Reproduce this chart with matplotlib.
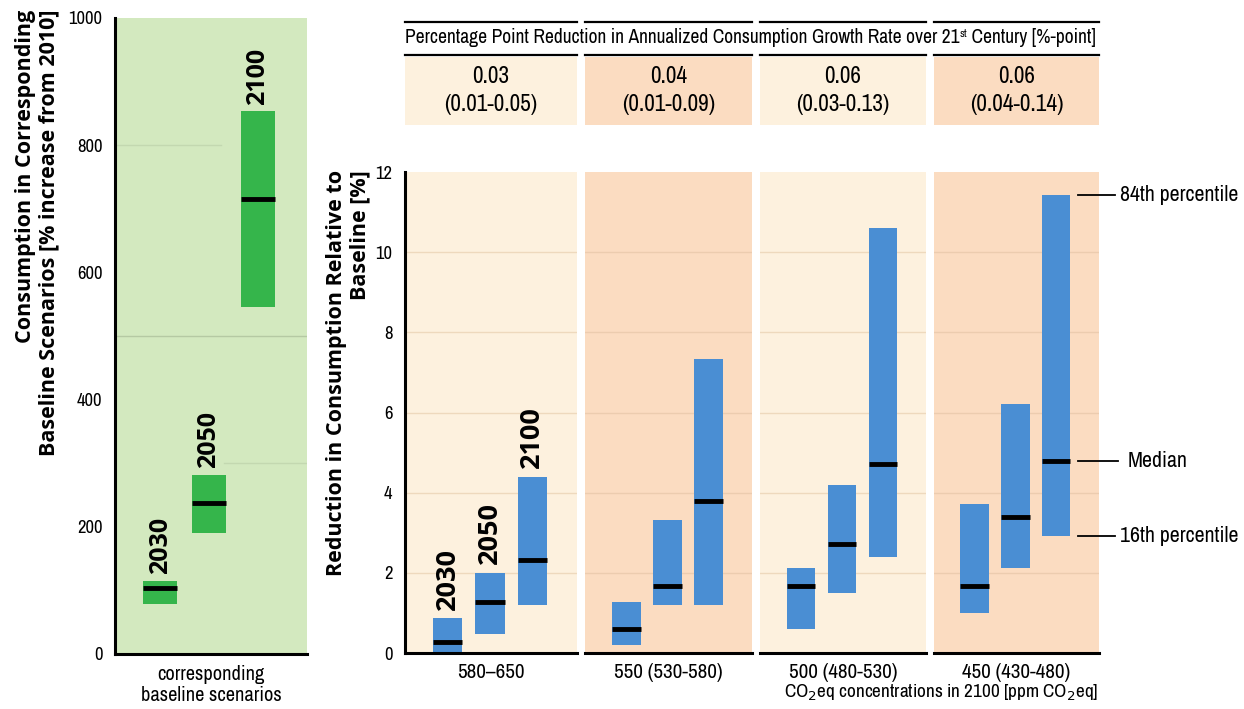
import matplotlib
matplotlib.use("Agg")
import matplotlib.pyplot as plt
from matplotlib import font_manager as fm
from matplotlib.transforms import blended_transform_factory
from matplotlib.lines import Line2D

# ---------------- data ----------------
years = ["2030", "2050", "2100"]

# left panel: consumption in baseline scenarios [% increase from 2010]
base_low = [78, 190, 545]
base_med = [103, 237, 715]
base_high = [115, 282, 853]

# right panels: reduction in consumption relative to baseline [%]
scenarios = ["580–650", "550 (530-580)", "500 (480-530)", "450 (430-480)"]
red_low = [[0.0, 0.48, 1.2], [0.2, 1.2, 1.2], [0.6, 1.5, 2.4], [1.0, 2.12, 2.92]]
red_med = [[0.28, 1.28, 2.33], [0.6, 1.68, 3.8], [1.68, 2.72, 4.72], [1.68, 3.4, 4.8]]
red_high = [[0.87, 2.0, 4.4], [1.28, 3.32, 7.33], [2.12, 4.2, 10.6], [3.72, 6.2, 11.42]]

growth_med = ["0.03", "0.04", "0.06", "0.06"]
growth_rng = ["(0.01-0.05)", "(0.01-0.09)", "(0.03-0.13)", "(0.04-0.14)"]

left_ticks = [0, 200, 400, 600, 800, 1000]
right_ticks = [0, 2, 4, 6, 8, 10, 12]

# ---------------- fonts ----------------
narrow_entry = None
for pref in ("narrow", "condensed"):
    for f in fm.fontManager.ttflist:
        low = (f.name + " " + f.fname).lower()
        if pref in low and "bold" not in low and "italic" not in low and "oblique" not in low:
            narrow_entry = f
            break
    if narrow_entry is not None:
        break
names = {f.name for f in fm.fontManager.ttflist}
if narrow_entry is not None:
    NFP = fm.FontProperties(fname=narrow_entry.fname)
    NNAME = narrow_entry.name
else:
    NNAME = "Roboto" if "Roboto" in names else "DejaVu Sans"
    NFP = fm.FontProperties(family=NNAME)
BOLD = "Open Sans" if "Open Sans" in names else "DejaVu Sans"
plt.rcParams["font.family"] = [NNAME, "DejaVu Sans"]
plt.rcParams["mathtext.fontset"] = "custom"
plt.rcParams["mathtext.rm"] = NNAME

W, H = 1244, 709
fig = plt.figure(figsize=(W / 100, H / 100), dpi=100)
fig.patch.set_facecolor("white")
renderer = fig.canvas.get_renderer()


def size_for(s, target_px, base=12.0):
    t = fig.text(0, 0, s, fontproperties=NFP, fontsize=base)
    w = t.get_window_extent(renderer).width
    t.remove()
    return base * target_px / w


def px_axes(x0, y0, x1, y1):
    return fig.add_axes([x0 / W, 1 - y1 / H, (x1 - x0) / W, (y1 - y0) / H])


def fx(x):
    return x / W


def fy(y):
    return 1 - y / H


def ntext(x, y, s, size, **kw):
    return fig.text(fx(x), fy(y), s, fontproperties=NFP, fontsize=size, **kw)


green_bg = "#d3e9bf"
green_bar = "#35b54b"
blue_bar = "#4a8ed3"
cream = "#fdf1de"
peach = "#fbdcc1"
panel_bg = [cream, peach, cream, peach]

tick_size = size_for("1000", 34)

# ---------------- left panel ----------------
axL = px_axes(115, 18, 307, 654)
axL.set_facecolor(green_bg)
axL.set_ylim(0, 1000)
axL.set_xlim(-0.92, 3.0)
for s in ["top", "right"]:
    axL.spines[s].set_visible(False)
for s in ["left", "bottom"]:
    axL.spines[s].set_linewidth(2.2)
axL.axhline(500, color="#b5c9a3", lw=1.0, zorder=1)
axL.axhline(800, xmin=0, xmax=0.55, color="#c3d8b0", lw=1.0, zorder=1)
axL.axhline(300, xmin=0.57, xmax=1, color="#c3d8b0", lw=1.0, zorder=1)
xs = list(range(len(years)))
axL.bar(xs, [h - l for h, l in zip(base_high, base_low)], bottom=base_low,
        width=0.7, color=green_bar, zorder=2)
axL.hlines(base_med, [x - 0.35 for x in xs], [x + 0.35 for x in xs],
           color="black", lw=3.5, zorder=3)
for x, top, yr in zip(xs, base_high, years):
    axL.annotate(yr, (x, top), xytext=(0, 5), textcoords="offset points",
                 rotation=90, ha="center", va="bottom", fontsize=18,
                 fontweight="bold", family=BOLD)
axL.set_yticks(left_ticks)
axL.set_yticklabels([str(t) for t in left_ticks])
for lab in axL.get_yticklabels():
    lab.set_fontproperties(NFP)
    lab.set_fontsize(tick_size)
axL.tick_params(axis="y", length=0, pad=9)
axL.set_xticks([])
cb_size = size_for("baseline scenarios", 140)
ntext(211, 685, "corresponding\nbaseline scenarios", cb_size, ha="center",
      va="center", linespacing=1.1)
fig.text(fx(37), fy(10), "Consumption in Corresponding\nBaseline Scenarios [% increase from 2010]",
         rotation=90, ha="center", va="top", multialignment="right",
         fontsize=15.5, fontweight="bold", family=BOLD, linespacing=1.15)

# ---------------- right panels ----------------
panels = [(405, 577), (585, 752), (760, 926), (934, 1099)]
scen_size = size_for("550 (530-580)", 108)
axes_r = []
for i, (x0, x1) in enumerate(panels):
    ax = px_axes(x0, 172, x1, 653)
    ax.set_facecolor(panel_bg[i])
    ax.set_ylim(0, 12)
    ax.set_xlim(-1.0, 3.05)
    for s in ["top", "right", "left"]:
        ax.spines[s].set_visible(False)
    ax.spines["bottom"].set_linewidth(2.2)
    gc = "#eed9bd" if i % 2 == 0 else "#ecccaf"
    for g in right_ticks[1:-1]:
        ax.axhline(g, color=gc, lw=1.0, zorder=1)
    ax.bar(xs, [h - l for h, l in zip(red_high[i], red_low[i])],
           bottom=red_low[i], width=0.7, color=blue_bar, zorder=2)
    ax.hlines(red_med[i], [x - 0.35 for x in xs], [x + 0.35 for x in xs],
              color="black", lw=3.5, zorder=3)
    ax.set_xticks([])
    if i == 0:
        ax.spines["left"].set_visible(True)
        ax.spines["left"].set_linewidth(2.2)
        ax.set_yticks(right_ticks)
        ax.set_yticklabels([str(t) for t in right_ticks])
        for lab in ax.get_yticklabels():
            lab.set_fontproperties(NFP)
            lab.set_fontsize(tick_size)
        ax.tick_params(axis="y", length=0, pad=9)
        for x, top, yr in zip(xs, red_high[i], years):
            ax.annotate(yr, (x, top), xytext=(0, 6), textcoords="offset points",
                        rotation=90, ha="center", va="bottom", fontsize=19.5,
                        fontweight="bold", family=BOLD)
    else:
        ax.set_yticks([])
    ntext((x0 + x1) / 2, 673, scenarios[i], scen_size, ha="center", va="center")
    axes_r.append(ax)

co2 = r"CO$_{2}$eq concentrations in 2100 [ppm CO$_{2}$eq]"
ntext(1098, 693, co2, size_for(co2, 315), ha="right", va="center")
fig.text(fx(348), fy(170), "Reduction in Consumption Relative to\nBaseline [%]",
         rotation=90, ha="center", va="top", multialignment="right",
         fontsize=15.5, fontweight="bold", family=BOLD, linespacing=1.15)

# annotations for percentiles on last bar
ax4 = axes_r[-1]
tr = blended_transform_factory(fig.transFigure, ax4.transData)
ann_size = size_for("84th percentile", 119)
ann = [(red_high[3][2], "84th percentile", 1115, 1120),
       (red_med[3][2], "Median", 1118, 1128),
       (red_low[3][2], "16th percentile", 1115, 1120)]
for yv, label, xe, xt in ann:
    ax4.plot([fx(1078), fx(xe)], [yv, yv], color="black", lw=1.3,
             transform=tr, clip_on=False, zorder=5)
    ax4.text(fx(xt), yv, label, transform=tr, ha="left", va="center",
             fontproperties=NFP, fontsize=ann_size, clip_on=False)

# ---------------- header table ----------------
hdr_size = size_for("(0.01-0.05)", 94)
for i, (x0, x1) in enumerate(panels):
    hax = px_axes(x0, 57, x1, 125)
    hax.set_facecolor(panel_bg[i])
    hax.set_xticks([])
    hax.set_yticks([])
    for s in hax.spines.values():
        s.set_visible(False)
    hax.text(0.5, 0.72, growth_med[i], transform=hax.transAxes, ha="center",
             va="center", fontproperties=NFP, fontsize=hdr_size)
    hax.text(0.5, 0.3, growth_rng[i], transform=hax.transAxes, ha="center",
             va="center", fontproperties=NFP, fontsize=hdr_size)
    for yl in (22, 55):
        fig.add_artist(Line2D([fx(x0), fx(x1)], [fy(yl), fy(yl)], color="black",
                              lw=1.6, transform=fig.transFigure))

# title with small superscript, built from pieces
t1 = "Percentage Point Reduction in Annualized Consumption Growth Rate over 21"
t2 = "st"
t3 = " Century [%-point]"
full_w = 690.0
probe_size = 12.0
w1 = size_for(t1, 1.0, probe_size)  # returns probe_size / width1
w3 = size_for(t3, 1.0, probe_size)
width1 = probe_size / w1
width3 = probe_size / w3
sup_frac = 0.6
# approximate sup width using probe
width2 = probe_size / size_for(t2, 1.0, probe_size) * sup_frac
scale = full_w / (width1 + width2 + width3)
tsize = probe_size * scale
x = 405.0
ntext(x, 43, t1, tsize, ha="left", va="baseline")
x += width1 * scale
ntext(x + 1, 43 - tsize * 0.45, t2, tsize * sup_frac, ha="left", va="baseline")
x += width2 * scale + 1
ntext(x, 43, t3, tsize, ha="left", va="baseline")

fig.savefig("out.png", dpi=100, facecolor="white")
